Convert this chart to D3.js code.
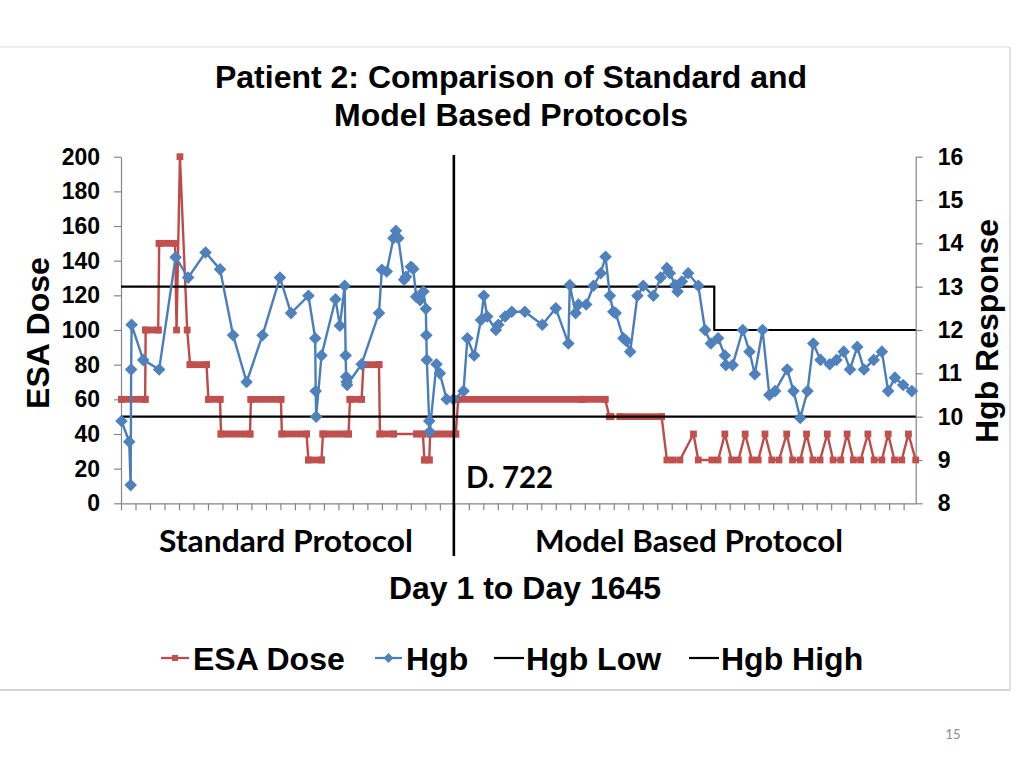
<!DOCTYPE html>
<html><head><meta charset="utf-8">
<script src="https://cdn.jsdelivr.net/npm/d3@7"></script>
<style>
body{margin:0;background:#fff}
svg{display:block}
text{font-family:"Liberation Sans",Arial,sans-serif;font-weight:bold;fill:#000}
.cal{font-family:Lato,"Open Sans",sans-serif}
</style></head><body>
<svg id="chart" width="1024" height="768"></svg>
<script>
// ---------------- DATA ----------------
const titleLines = ["Patient 2: Comparison of Standard and", "Model Based Protocols"];
const doseTicks = [0, 20, 40, 60, 80, 100, 120, 140, 160, 180, 200];
const hgbTicks = [8, 9, 10, 11, 12, 13, 14, 15, 16];
const dayDomain = [0, 1645];
const dayTickStep = 30;

// Hgb measurements (day, g/dL) – secondary axis
const hgbDays = [1,17,20,21,22,46,79,113,139,175,
  205,232,260,293,329,352,388,402,403,404,
  415,444,453,463,465,466,467,468,498,534,
  540,550,564,569,574,586,590,600,605,611,
  619,626,631,632,633,638,639,653,660,674,
  688,709,717,731,745,751,758,776,781,795,
  809,836,872,900,926,929,941,947,963,978,
  993,1003,1012,1019,1024,1040,1046,1054,1069,1081,
  1102,1117,1130,1136,1147,1152,1161,1174,1195,1209,
  1221,1236,1250,1252,1266,1287,1301,1312,1328,1342,
  1354,1379,1392,1406,1421,1433,1448,1467,1481,1496,
  1509,1524,1538,1558,1575,1588,1602,1619,1637];
const hgbValues = [9.9,9.42,8.42,11.09,12.12,11.31,11.09,13.68,13.21,13.79,
  13.4,11.88,10.8,11.88,13.21,12.39,12.79,11.81,10.59,10.0,
  11.41,12.71,12.1,13.02,11.41,10.92,10.8,10.73,11.21,12.39,
  13.39,13.35,14.12,14.29,14.12,13.16,13.23,13.46,13.41,12.77,
  12.69,12.89,12.49,11.88,11.31,9.9,9.65,11.21,11.0,10.4,
  10.4,10.59,11.81,11.41,12.23,12.79,12.31,12.0,12.12,12.31,
  12.42,12.42,12.12,12.5,11.69,13.04,12.39,12.59,12.59,13.02,
  13.31,13.69,12.79,12.42,12.39,11.81,11.75,11.5,12.79,13.02,
  12.79,13.21,13.43,13.31,13.04,12.89,13.12,13.31,13.02,12.0,
  11.69,11.81,11.41,11.19,11.19,12.0,11.5,10.98,12.0,10.5,
  10.59,11.09,10.59,9.97,10.59,11.69,11.31,11.21,11.31,11.5,
  11.09,11.61,11.09,11.31,11.5,10.59,10.9,10.73,10.59];

// ESA dosing: periods of constant dose (start day, end day, dose); single doses have start == end
const esaStart = [1,51,79,115,122,137,143,181,207,269,333,388,418,474,502,536,612,628,640,698,956,1011,1033,
  1130,1143,1157,1185,1195,1223,1236,1250,1264,1278,1292,1306,1319,1333,1347,1362,1378,1390,1406,1419,1432,1447,1462,1474,1490,1503,1516,1531,1546,1559,1575,1588,1601,1616,1630,1645];
const esaEnd = [50,77,112,115,122,137,177,205,267,331,384,415,471,498,534,564,625,638,693,951,1002,1014,1119,
  1130,1143,1157,1185,1195,1223,1236,1250,1264,1278,1292,1306,1319,1333,1347,1362,1378,1390,1406,1419,1432,1447,1462,1474,1490,1503,1516,1531,1546,1559,1575,1588,1601,1616,1630,1645];
const esaDose = [60,100,150,100,200,100,80,60,40,60,40,25,40,60,80,40,40,25,40,60,60,50,50,
  25,25,25,40,25,25,25,40,25,25,40,25,25,40,25,25,40,25,25,40,25,25,40,25,25,40,25,25,40,25,25,40,25,25,40,25];

// Target limits (secondary axis)
const limitDays = [0, 1228, 1228, 1645];
const hgbLowValues = [10, 10, 10, 10];
const hgbHighValues = [13, 13, 12, 12];
const switchDay = 689;
const switchLabel = "D. 722";

// ---------------- CHART ----------------
const svg = d3.select("#chart");
const plot = {left: 121, right: 915.7, top: 156.7, bottom: 503.3};
const x = d3.scaleLinear().domain(dayDomain).range([plot.left, plot.right]);
const yL = d3.scaleLinear().domain([0, 200]).range([plot.bottom, plot.top]);
const yR = d3.scaleLinear().domain([8, 16]).range([plot.bottom, plot.top]);

const RED = "#BE4B48", REDM = "#C0504D", BLUE = "#4A7EBB", BLUEM = "#4F81BD", AX = "#868686";

// slide frame
svg.append("line").attr("x1", 0).attr("x2", 1010).attr("y1", 47).attr("y2", 47).attr("stroke", "#e8e8e8").attr("stroke-width", 1.5);
svg.append("line").attr("x1", 1010).attr("x2", 1010).attr("y1", 47).attr("y2", 690).attr("stroke", "#d4d4d4").attr("stroke-width", 1.5);
svg.append("line").attr("x1", 0).attr("x2", 1010).attr("y1", 690).attr("y2", 690).attr("stroke", "#c8c8c8").attr("stroke-width", 1.5);
svg.append("text").attr("class", "cal").attr("x", 953).attr("y", 739).attr("text-anchor", "middle")
  .style("font-weight", "normal").style("font-size", "13px").style("fill", "#8c8c8c").text("15");

// title
svg.selectAll("text.title").data(titleLines).join("text").attr("class", "title")
  .attr("x", 511).attr("y", (d, i) => 88 + i * 38).attr("text-anchor", "middle").style("font-size", "32px").text(d => d);

// axes
function styleAxis(g) {
  g.select(".domain").attr("stroke", AX).attr("stroke-width", 1.2);
  g.selectAll(".tick line").attr("stroke", AX).attr("stroke-width", 1.2);
  g.selectAll(".tick text").style("font-size", "23px").style("font-family", '"Liberation Sans",Arial,sans-serif').style("font-weight", "bold").attr("fill", "#000");
}
svg.append("g").attr("transform", `translate(${plot.left},0)`)
  .call(d3.axisLeft(yL).tickValues(doseTicks).tickSize(7).tickSizeOuter(0).tickPadding(14))
  .call(styleAxis);
svg.append("g").attr("transform", `translate(${plot.right},0)`)
  .call(d3.axisRight(yR).tickValues(hgbTicks).tickSize(7).tickSizeOuter(0).tickPadding(15))
  .call(styleAxis);
svg.append("g").attr("transform", `translate(0,${plot.bottom})`)
  .call(d3.axisBottom(x).tickValues(d3.range(dayDomain[0], dayDomain[1], dayTickStep)).tickSize(7).tickSizeOuter(0).tickFormat(""))
  .call(styleAxis);

// axis titles
svg.append("text").attr("transform", "translate(49,333) rotate(-90)").attr("text-anchor", "middle").style("font-size", "32px").text("ESA Dose");
svg.append("text").attr("transform", "translate(998,331) rotate(-90)").attr("text-anchor", "middle").style("font-size", "32px").text("Hgb Response");
svg.append("text").attr("x", 525).attr("y", 599).attr("text-anchor", "middle").style("font-size", "32px").text("Day 1 to Day 1645");

// ESA dose series
const esa = esaDose.map((d, i) => ({s: esaStart[i], e: esaEnd[i], v: d}));
const esaPts = esa.flatMap(p => p.s === p.e ? [[p.s, p.v]] : [[p.s, p.v], [p.e, p.v]]);
const gEsa = svg.append("g");
gEsa.append("path").attr("d", d3.line().x(d => x(d[0])).y(d => yL(d[1]))(esaPts))
  .attr("fill", "none").attr("stroke", RED).attr("stroke-width", 2.4).attr("stroke-linejoin", "round");
gEsa.selectAll("line.band").data(esa.filter(p => p.e > p.s)).join("line").attr("class", "band")
  .attr("x1", p => x(p.s)).attr("x2", p => x(p.e)).attr("y1", p => yL(p.v)).attr("y2", p => yL(p.v))
  .attr("stroke", REDM).attr("stroke-width", 6.8).attr("stroke-linecap", "square");
gEsa.selectAll("rect.mk").data(esaPts).join("rect").attr("class", "mk")
  .attr("x", d => x(d[0]) - 3.4).attr("y", d => yL(d[1]) - 3.4).attr("width", 6.8).attr("height", 6.8).attr("fill", REDM);

// limit lines
const limLine = d3.line().x(d => x(d[0])).y(d => yR(d[1]));
svg.append("path").attr("d", limLine(limitDays.map((d, i) => [d, hgbLowValues[i]]))).attr("fill", "none").attr("stroke", "#000").attr("stroke-width", 2.2);
svg.append("path").attr("d", limLine(limitDays.map((d, i) => [d, hgbHighValues[i]]))).attr("fill", "none").attr("stroke", "#000").attr("stroke-width", 2.2);

// Hgb series
const hgb = hgbDays.map((d, i) => [d, hgbValues[i]]);
const gH = svg.append("g");
gH.append("path").attr("d", d3.line().x(d => x(d[0])).y(d => yR(d[1]))(hgb))
  .attr("fill", "none").attr("stroke", BLUE).attr("stroke-width", 2.4).attr("stroke-linejoin", "round");
const diamond = r => `M0,${-r}L${r},0L0,${r}L${-r},0Z`;
gH.selectAll("path.dm").data(hgb).join("path").attr("class", "dm")
  .attr("d", diamond(6.3)).attr("transform", d => `translate(${x(d[0])},${yR(d[1])})`).attr("fill", BLUEM);

// protocol switch
svg.append("line").attr("x1", x(switchDay)).attr("x2", x(switchDay)).attr("y1", 155).attr("y2", 556).attr("stroke", "#000").attr("stroke-width", 2.6);
svg.append("text").attr("class", "cal").attr("x", 466).attr("y", 488).style("font-size", "30px").attr("textLength", 87).attr("lengthAdjust", "spacingAndGlyphs").text(switchLabel);
svg.append("text").attr("class", "cal").attr("x", 159).attr("y", 552).style("font-size", "30px").attr("textLength", 254).attr("lengthAdjust", "spacingAndGlyphs").text("Standard Protocol");
svg.append("text").attr("class", "cal").attr("x", 535).attr("y", 552).style("font-size", "30px").attr("textLength", 308).attr("lengthAdjust", "spacingAndGlyphs").text("Model Based Protocol");

// legend
const lg = svg.append("g");
const ly = 658;
lg.append("line").attr("x1", 161).attr("x2", 189).attr("y1", ly).attr("y2", ly).attr("stroke", RED).attr("stroke-width", 2.25);
lg.append("rect").attr("x", 172).attr("y", ly - 3).attr("width", 6).attr("height", 6).attr("fill", REDM);
lg.append("text").attr("x", 193).attr("y", 669.5).style("font-size", "32px").text("ESA Dose");
lg.append("line").attr("x1", 375).attr("x2", 402).attr("y1", ly).attr("y2", ly).attr("stroke", BLUE).attr("stroke-width", 2.25);
lg.append("path").attr("d", diamond(5)).attr("transform", `translate(388.5,${ly})`).attr("fill", BLUEM);
lg.append("text").attr("x", 406).attr("y", 669.5).style("font-size", "32px").text("Hgb");
lg.append("line").attr("x1", 494).attr("x2", 524).attr("y1", ly).attr("y2", ly).attr("stroke", "#000").attr("stroke-width", 2.2);
lg.append("text").attr("x", 526).attr("y", 669.5).style("font-size", "32px").text("Hgb Low");
lg.append("line").attr("x1", 689).attr("x2", 719).attr("y1", ly).attr("y2", ly).attr("stroke", "#000").attr("stroke-width", 2.2);
lg.append("text").attr("x", 721).attr("y", 669.5).style("font-size", "32px").text("Hgb High");
</script>
</body></html>
